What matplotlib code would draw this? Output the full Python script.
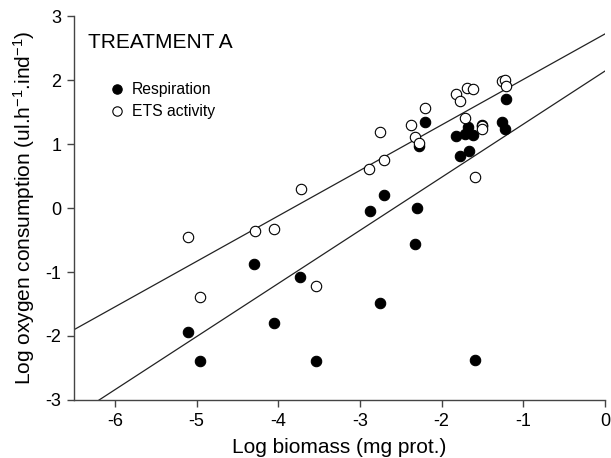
import matplotlib
matplotlib.use("Agg")
import matplotlib.pyplot as plt
import numpy as np

plt.rcParams['font.family'] = ['Liberation Sans', 'DejaVu Sans']
plt.rcParams['axes.unicode_minus'] = False
plt.rcParams['mathtext.fontset'] = 'custom'
plt.rcParams['mathtext.rm'] = 'Liberation Sans'
plt.rcParams['mathtext.it'] = 'Liberation Sans'
plt.rcParams['mathtext.bf'] = 'Liberation Sans'

# Respiration (filled circles)
resp_x = [-5.11, -4.96, -4.30, -4.05, -3.73, -3.54, -2.88, -2.76, -2.70, -2.33, -2.30,
          -2.28, -2.20, -1.82, -1.77, -1.71, -1.68, -1.66, -1.61, -1.59, -1.50, -1.26,
          -1.23, -1.21]
resp_y = [-1.94, -2.39, -0.88, -1.80, -1.08, -2.39, -0.05, -1.48, 0.21, -0.57, 0.00,
          0.97, 1.35, 1.13, 0.81, 1.16, 1.27, 0.89, 1.14, -2.38, 1.29, 1.34,
          1.24, 1.71]

# ETS activity (open circles)
ets_x = [-5.11, -4.96, -4.29, -4.05, -3.72, -3.54, -2.89, -2.76, -2.70, -2.38, -2.33,
         -2.28, -2.20, -1.82, -1.77, -1.71, -1.69, -1.61, -1.59, -1.50, -1.50, -1.26,
         -1.22, -1.21]
ets_y = [-0.45, -1.39, -0.36, -0.33, 0.30, -1.22, 0.61, 1.19, 0.75, 1.29, 1.11,
         1.02, 1.56, 1.78, 1.67, 1.40, 1.88, 1.86, 0.48, 1.28, 1.23, 1.99,
         2.00, 1.90]

# Regression lines (slope, intercept)
ets_fit = (0.711, 2.72)
resp_fit = (0.83, 2.14)

x_ticks = [-6, -5, -4, -3, -2, -1, 0]
y_ticks = [-3, -2, -1, 0, 1, 2, 3]

fig = plt.figure(figsize=(6.11, 4.58), dpi=100)
ax = fig.add_axes([74/611, 1-400/458, 531/611, 384/458])

xl = np.array([-6.5, 0.0])
ax.plot(xl, ets_fit[0]*xl + ets_fit[1], color='#222222', lw=0.9, zorder=1)
x0 = (-3 - resp_fit[1]) / resp_fit[0]
xr = np.array([x0, 0.0])
ax.plot(xr, resp_fit[0]*xr + resp_fit[1], color='#222222', lw=0.9, zorder=1)

ax.plot(resp_x, resp_y, 'o', ms=7.5, mfc='black', mec='black', mew=0.8,
        ls='none', label='Respiration', zorder=2)
ax.plot(ets_x, ets_y, 'o', ms=7.5, mfc='white', mec='black', mew=0.8,
        ls='none', label='ETS activity', zorder=3)

ax.set_xlim(-6.5, 0)
ax.set_ylim(-3, 3)
ax.set_xticks(x_ticks)
ax.set_yticks(y_ticks)
ax.set_xticklabels([str(t) for t in x_ticks])
ax.set_yticklabels([str(t) for t in y_ticks])
for s in ['top', 'right']:
    ax.spines[s].set_visible(False)
for s in ['left', 'bottom']:
    ax.spines[s].set_color('#444444')
    ax.spines[s].set_linewidth(1.0)
ax.tick_params(direction='out', length=5, width=1.0, color='#444444',
               labelsize=13, pad=4)

ax.set_xlabel('Log biomass (mg prot.)', fontsize=15, labelpad=6)
ax.set_ylabel(r'Log oxygen consumption (ul.h$^{\mathregular{-1}}$.ind$^{\mathregular{-1}}$)',
              fontsize=15, labelpad=6)

ax.text((88-74)/531, 1-(48-16)/384, 'TREATMENT A', transform=ax.transAxes,
        fontsize=15, ha='left', va='baseline')

ax.legend(loc='upper left', bbox_to_anchor=((111-74)/531, 1-(82-16)/384),
          frameon=False, fontsize=11.3, borderaxespad=0, borderpad=0,
          handlelength=0.8, handletextpad=0.55, labelspacing=0.45, markerscale=0.9)

fig.savefig('out.png', dpi=100)
